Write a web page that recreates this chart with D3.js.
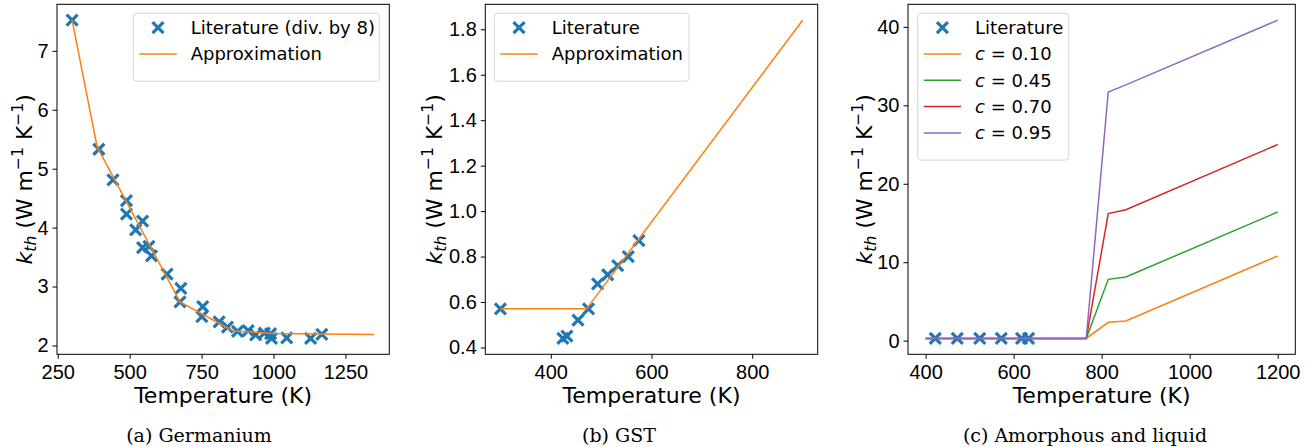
<!DOCTYPE html>
<html>
  <head>
    <script src="https://cdnjs.cloudflare.com/ajax/libs/d3/7.8.5/d3.min.js"></script>
    <style>
      body { margin: 0; background: #fff; }
      svg { font-family: "DejaVu Sans", sans-serif; }
      .tick text { font-size: 20px; fill: #000; }
      .tick line { stroke: #000; stroke-width: 1; }
      .frame { fill: none; stroke: #000; stroke-width: 1; }
      .axlabel { font-size: 22px; fill: #000; }
      .caption { font-family: "DejaVu Serif", serif; font-size: 19px; fill: #000; }
      .legend text { font-size: 18px; fill: #000; }
      .legend rect { fill: #fff; fill-opacity: 0.8; stroke: #d6d6d6; stroke-width: 1; }
      path.approx { fill: none; stroke-width: 1.5; }
      path.cross { stroke: #1f77b4; stroke-width: 3.2; fill: none; }
    </style>
  </head>
  <body>
    <svg id="fig" width="1314" height="447"></svg>
    <script>
      // ---- (a) germanium, literature values already divided by 8
      var geTemp = [300, 393, 442, 489, 489, 545, 521, 545, 567, 576, 630, 678, 675, 754, 751, 811, 840, 875, 912, 938, 968, 990, 993, 1046, 1129, 1168];
      var geK = [7.52, 5.33, 4.81, 4.46, 4.23, 4.11, 3.96, 3.66, 3.68, 3.52, 3.21, 2.97, 2.74, 2.66, 2.49, 2.40, 2.31, 2.24, 2.25, 2.18, 2.21, 2.20, 2.12, 2.13, 2.12, 2.19];
      var geApproxT = [300, 387, 675, 860, 1000, 1350];
      var geApproxK = [7.52, 5.37, 2.74, 2.245, 2.205, 2.185];

      // ---- (b) GST
      var gstTemp = [300, 424, 432, 454, 475, 493, 513, 533, 554, 575];
      var gstK = [0.57, 0.44, 0.45, 0.52, 0.57, 0.68, 0.72, 0.76, 0.80, 0.87];
      var gstApproxT = [300, 471, 900];
      var gstApproxK = [0.57, 0.57, 1.84];

      // ---- (c) amorphous and liquid
      var amTemp = [422, 472, 523, 572, 618, 634];
      var amK = [0.29, 0.29, 0.29, 0.29, 0.29, 0.29];
      var cTemp = [400, 765, 815, 855, 1200];
      var cLabels = ["0.10", "0.45", "0.70", "0.95"];
      var c010 = [0.29, 0.29, 2.34, 2.51, 10.8];
      var c045 = [0.29, 0.29, 7.82, 8.11, 16.4];
      var c070 = [0.29, 0.29, 16.2, 16.7, 25.0];
      var c095 = [0.29, 0.29, 31.7, 32.6, 40.85];

      var orange = "#ff7f0e";
      var svg = d3.select("#fig");

      function zip(a, b) { return a.map((v, i) => [v, b[i]]); }

      // matplotlib style 5% margins
      function padded(vals) {
        var e = d3.extent(vals), m = (e[1] - e[0]) * 0.05;
        return [e[0] - m, e[1] + m];
      }

      function crossPath(s) {
        return "M" + -s + "," + -s + "L" + s + "," + s + "M" + -s + "," + s + "L" + s + "," + -s;
      }

      function drawPanel(p) {
        var top = 4.3, bottom = 354.3;
        var g = svg.append("g");
        var allT = p.pts.map(d => d[0]), allK = p.pts.map(d => d[1]);
        p.lines.forEach(l => { l.data.forEach(d => { allT.push(d[0]); allK.push(d[1]); }); });

        var x = d3.scaleLinear().domain(padded(allT)).range([p.left, p.right]);
        var y = d3.scaleLinear().domain(padded(allK)).range([bottom, top]);

        g.append("g")
          .attr("transform", "translate(0," + bottom + ")")
          .call(d3.axisBottom(x).tickValues(p.xticks).tickFormat(d3.format("d")).tickSize(4.5).tickPadding(6))
          .call(a => a.select(".domain").remove())
          .selectAll("text").attr("font-family", null).attr("font-size", null);

        g.append("g")
          .attr("transform", "translate(" + p.left + ",0)")
          .call(d3.axisLeft(y).tickValues(p.yticks).tickFormat(p.yfmt).tickSize(4.5).tickPadding(4))
          .call(a => a.select(".domain").remove())
          .selectAll("text").attr("font-family", null).attr("font-size", null);

        // literature crosses
        g.selectAll("path.cross")
          .data(p.pts)
          .enter()
          .append("path")
          .attr("class", "cross")
          .attr("transform", d => "translate(" + x(d[0]) + "," + y(d[1]) + ")")
          .attr("d", crossPath(5.5));

        var line = d3.line().x(d => x(d[0])).y(d => y(d[1]));
        p.lines.forEach(l => {
          g.append("path").attr("class", "approx").attr("stroke", l.color).attr("d", line(l.data));
        });

        g.append("rect").attr("class", "frame")
          .attr("x", p.left).attr("y", top)
          .attr("width", p.right - p.left).attr("height", bottom - top);

        // axis labels
        g.append("text").attr("class", "axlabel")
          .attr("x", (p.left + p.right) / 2).attr("y", 403)
          .attr("text-anchor", "middle")
          .text("Temperature (K)");

        var yl = g.append("text").attr("class", "axlabel")
          .attr("text-anchor", "middle")
          .attr("transform", "translate(" + p.ylabelX + "," + (top + bottom) / 2 + ") rotate(-90)");
        yl.append("tspan").attr("font-style", "italic").text("k");
        yl.append("tspan").attr("font-style", "italic").attr("font-size", "15.5px").attr("dy", 4).text("th");
        yl.append("tspan").attr("dy", -4).text(" (W m");
        yl.append("tspan").attr("font-size", "15.5px").attr("dy", -9).text("\u22121");
        yl.append("tspan").attr("dy", 9).text(" K");
        yl.append("tspan").attr("font-size", "15.5px").attr("dy", -9).text("\u22121");
        yl.append("tspan").attr("dy", 9).text(")");

        // legend
        var lg = g.append("g").attr("class", "legend");
        lg.append("rect").attr("rx", 3)
          .attr("x", p.legend.x).attr("y", 13.3)
          .attr("width", p.legend.w).attr("height", 10 + 26.3 * (p.legend.items.length) + 5.3);
        p.legend.items.forEach((it, i) => {
          var cy = 27.7 + i * 26.3;
          var hx = p.legend.x + 6;
          if (it.marker) {
            lg.append("path").attr("class", "cross")
              .attr("transform", "translate(" + (hx + 18.7) + "," + cy + ")")
              .attr("d", crossPath(5.5));
          } else {
            lg.append("line").attr("x1", hx).attr("x2", hx + 37.4)
              .attr("y1", cy).attr("y2", cy)
              .attr("stroke", it.color).attr("stroke-width", 1.5);
          }
          var t = lg.append("text").attr("x", hx + 51.4).attr("y", cy).attr("dy", "0.36em");
          if (it.c) {
            t.append("tspan").attr("font-style", "italic").text("c");
            t.append("tspan").text(" = " + it.c);
          } else {
            t.text(it.label);
          }
        });

        svg.append("text").attr("class", "caption")
          .attr("x", p.capX).attr("y", 441.5)
          .attr("text-anchor", "middle")
          .text(p.caption);
      }

      drawPanel({
        left: 57, right: 389.3, ylabelX: 32,
        pts: zip(geTemp, geK),
        lines: [{ color: orange, data: zip(geApproxT, geApproxK) }],
        xticks: [250, 500, 750, 1000, 1250],
        yticks: [2, 3, 4, 5, 6, 7],
        yfmt: d3.format("d"),
        legend: { x: 133.3, w: 246, items: [{ marker: true, label: "Literature (div. by 8)" }, { color: orange, label: "Approximation" }] },
        capX: 199, caption: "(a) Germanium"
      });

      drawPanel({
        left: 485.3, right: 817.7, ylabelX: 441.5,
        pts: zip(gstTemp, gstK),
        lines: [{ color: orange, data: zip(gstApproxT, gstApproxK) }],
        xticks: [400, 600, 800],
        yticks: [0.4, 0.6, 0.8, 1.0, 1.2, 1.4, 1.6, 1.8],
        yfmt: d3.format(".1f"),
        legend: { x: 494.3, w: 194.7, items: [{ marker: true, label: "Literature" }, { color: orange, label: "Approximation" }] },
        capX: 619, caption: "(b) GST"
      });

      var cColors = [orange, "#2ca02c", "#d62728", "#9467bd"];
      var cSeries = [c010, c045, c070, c095];
      drawPanel({
        left: 908, right: 1295.3, ylabelX: 871.5,
        pts: zip(amTemp, amK),
        lines: cSeries.map((s, i) => ({ color: cColors[i], data: zip(cTemp, s) })),
        xticks: [400, 600, 800, 1000, 1200],
        yticks: [0, 10, 20, 30, 40],
        yfmt: d3.format("d"),
        legend: { x: 917.7, w: 151, items: [{ marker: true, label: "Literature" }].concat(cLabels.map((c, i) => ({ color: cColors[i], c: c }))) },
        capX: 1085, caption: "(c) Amorphous and liquid"
      });
    </script>
  </body>
</html>
